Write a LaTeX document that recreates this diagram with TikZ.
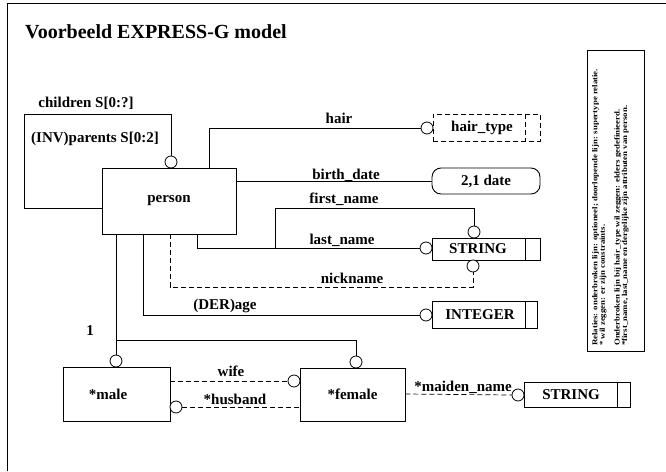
\documentclass[tikz,border=0pt]{standalone}
\usepackage{fontspec}
\setmainfont{Liberation Serif}
\newfontfamily\legfont{Liberation Serif}[FakeStretch=1.17]
\begin{document}
\begin{tikzpicture}[x=1pt,y=-1pt,
  every node/.style={font=\bfseries\fontsize{15}{15}\selectfont, inner sep=0pt},
  box/.style={draw, line width=0.9pt},
  circ/.style={circle, draw, fill=white, minimum size=12pt, inner sep=0pt, line width=0.8pt},
  conn/.style={line width=0.7pt},
  opt/.style={line width=0.7pt, dashed, dash pattern=on 5pt off 3pt},
  lbl/.style={anchor=base}]
\useasboundingbox (0,0) rectangle (666,471);
% frame
\draw[line width=1pt] (7,471) -- (7,3) -- (666,3);
\node[anchor=base west, font=\bfseries\fontsize{20}{20}\selectfont] (title) at (25,38) {Voorbeeld EXPRESS-G model};

% entities and types
\node[box, minimum width=134pt, minimum height=66pt] (person) at (169,201) {person};
\node[draw, line width=0.9pt, dashed, dash pattern=on 5pt off 3pt, minimum width=107pt, minimum height=27pt] (hairt) at (486.5,127.5) {hair\_type\hspace*{9pt}};
\draw[line width=0.9pt, dashed, dash pattern=on 5pt off 3pt] ([xshift=-15pt]hairt.north east) -- ([xshift=-15pt]hairt.south east);
\node[box, rounded corners=9pt, minimum width=108pt, minimum height=26pt] (date) at (486,181) {2,1 date};
\node[box, minimum width=108pt, minimum height=22pt] (str1) at (486,249) {STRING\hspace*{16pt}};
\draw[line width=0.9pt] ([xshift=-15pt]str1.north east) -- ([xshift=-15pt]str1.south east);
\node[box, minimum width=105pt, minimum height=27pt] (int) at (484.5,314.5) {INTEGER\hspace*{9pt}};
\draw[line width=0.9pt] ([xshift=-12pt]int.north east) -- ([xshift=-12pt]int.south east);
\node[box, minimum width=107pt, minimum height=54pt] (male) at (116.5,394) {*male\hspace*{17pt}};
\node[box, minimum width=105pt, minimum height=53pt] (female) at (352.5,394.5) {*female};
\node[box, minimum width=106pt, minimum height=25pt] (str2) at (577,394.5) {STRING\hspace*{12pt}};
\draw[line width=0.9pt] ([xshift=-13pt]str2.north east) -- ([xshift=-13pt]str2.south east);

% connectors
\coordinate (loopL) at (24,114);
\coordinate (firstJ) at (275,248);
\coordinate (superJ) at (116,340);
\draw[conn] (person.west |- 0,208) -| (loopL) -| (171,156);
\draw[conn] (person.north -| 209,0) |- (421,128);
\draw[conn] (person.east |- 0,181) -- (date.west |- 0,181);
\draw[conn] (firstJ) |- (474,208) -- (474,226);
\draw[conn] (person.south -| 197,0) |- (420,248);
\draw[opt] (person.south -| 170,0) |- (473,287) -- (473,272);
\draw[line width=1pt] (person.south -| 143,0) |- (420,315);
\draw[conn] (person.south -| 116,0) -- (116,355);
\draw[conn] (superJ) -| (356,356);
\draw[opt] (male.east |- 0,381) -- (288,381);
\draw[opt] (182,407) -- (female.west |- 0,407);
\draw[opt] (female.east |- 0,394) -- (512,395);

% circles
\node[circ] (cpar) at (171,162) {};
\node[circ] (chair) at (427,128) {};
\node[circ] (cfirst) at (474,232) {};
\node[circ] (clast) at (426,248) {};
\node[circ] (cnick) at (473,266) {};
\node[circ] (cage) at (426,315) {};
\node[circ] (cmale) at (116,361) {};
\node[circ] (cfem) at (356,362) {};
\node[circ] (cwife) at (294,381) {};
\node[circ] (chusb) at (176,407) {};
\node[circ] (cmaid) at (518,395) {};

% labels
\node[lbl] (lchild) at (86,107) {children S[0:?]};
\node[lbl] (linv) at (95,142) {(INV)parents S[0:2]};
\node[lbl] (lhair) at (339,123) {hair};
\node[lbl] (lbirth) at (346,179) {birth\_date};
\node[lbl] (lfirst) at (344,203) {first\_name};
\node[lbl] (llast) at (342,244) {last\_name};
\node[lbl] (lnick) at (352,283) {nickname};
\node[lbl] (lage) at (225,309) {(DER)age};
\node[lbl] (lone) at (90,335) {1};
\node[lbl] (lwife) at (231,376) {wife};
\node[lbl] (lhusb) at (235,404) {*husband};
\node[lbl] (lmaid) at (463,391) {*maiden\_name};

% legend
\node[draw, line width=0.8pt, minimum width=57pt, minimum height=301pt] (legbox) at (615.5,200.5) {};
\node[rotate=90, anchor=north west, align=left, font=\legfont\bfseries\fontsize{7.5}{7.4}\selectfont] (legtext) at (592,346)
 {Relaties: onderbroken lijn: optioneel; doorlopende lijn: supertype relatie.\\
  * wil zeggen: er zijn constraints.\\[7.4pt]
  Onderbroken lijn bij hair\_type wil zeggen: elders gedefinieerd.\\
  *first\_name, last\_name en dergelijke zijn attributen van person.};
\end{tikzpicture}
\end{document}
